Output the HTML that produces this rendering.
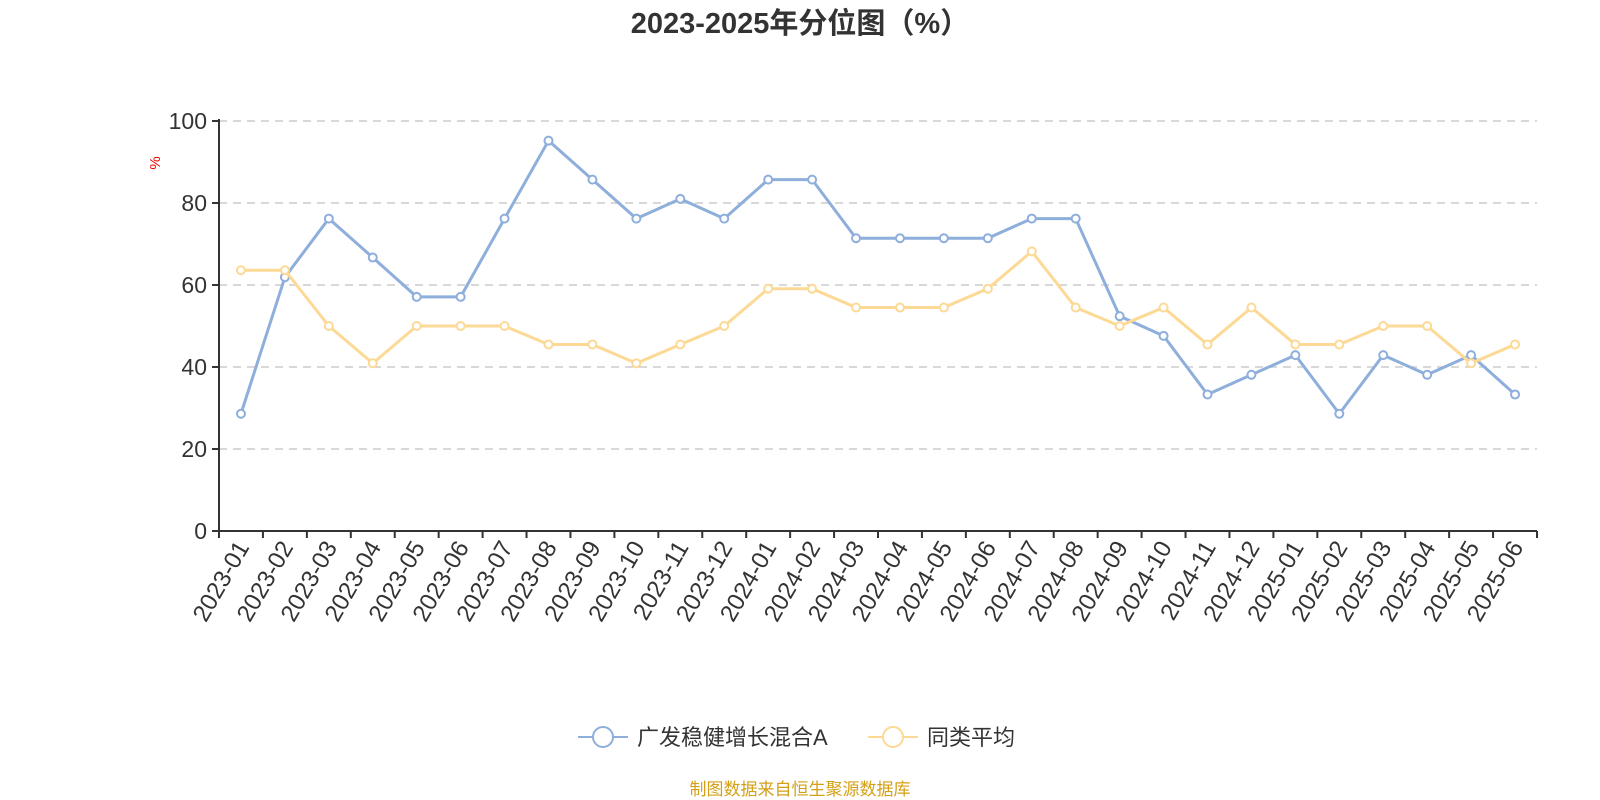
<!DOCTYPE html>
<html><head><meta charset="utf-8">
<style>
body{margin:0;background:#fff;}
svg{display:block;font-family:"Liberation Sans","Noto Sans CJK SC",sans-serif;}
</style></head>
<body>
<svg id="chart" width="1600" height="800" viewBox="0 0 1600 800">
<text x="800" y="33" text-anchor="middle" font-size="29" font-weight="bold" fill="#333">2023-2025年分位图（%）</text>
<text transform="translate(160,163) rotate(-90)" text-anchor="middle" font-size="15" fill="#e00">%</text>
<g id="grid"></g><g id="axes"></g><g id="series"></g>
<g>
<g>
<line x1="578" y1="737" x2="628" y2="737" stroke="#8eaedb" stroke-width="2"/>
<circle cx="603" cy="737" r="10" fill="#fff" stroke="#8eaedb" stroke-width="2"/>
<text x="637" y="745" font-size="22" fill="#333">广发稳健增长混合A</text></g>
<g>
<line x1="868" y1="737" x2="918" y2="737" stroke="#fdd996" stroke-width="2"/>
<circle cx="893" cy="737" r="10" fill="#fff" stroke="#fdd996" stroke-width="2"/>
<text x="927" y="745" font-size="22" fill="#333">同类平均</text></g>
</g>
<text x="800" y="795" text-anchor="middle" font-size="17" fill="#d4a017">制图数据来自恒生聚源数据库</text>
</svg>
<script>
const categories=["2023-01","2023-02","2023-03","2023-04","2023-05","2023-06","2023-07","2023-08","2023-09","2023-10","2023-11","2023-12","2024-01","2024-02","2024-03","2024-04","2024-05","2024-06","2024-07","2024-08","2024-09","2024-10","2024-11","2024-12","2025-01","2025-02","2025-03","2025-04","2025-05","2025-06"];
const fundValues=[28.6,61.9,76.2,66.7,57.1,57.1,76.2,95.2,85.7,76.2,81.0,76.2,85.7,85.7,71.4,71.4,71.4,71.4,76.2,76.2,52.4,47.6,33.3,38.1,42.9,28.6,42.9,38.1,42.9,33.3];
const avgValues=[63.6,63.6,50,40.9,50,50,50,45.5,45.5,40.9,45.5,50,59.1,59.1,54.5,54.5,54.5,59.1,68.2,54.5,50,54.5,45.5,54.5,45.5,45.5,50,50,40.9,45.5];
const yTicks=[0,20,40,60,80,100];
const NS="http://www.w3.org/2000/svg";
const L=219,R=1537,T=121,B=531;
const bw=(R-L)/categories.length;
const xs=i=>L+bw*(i+0.5);
const ys=v=>B-(v/100)*(B-T);
function mk(tag,attrs,parent){const e=document.createElementNS(NS,tag);for(const k in attrs)e.setAttribute(k,attrs[k]);parent.appendChild(e);return e;}
const grid=document.getElementById('grid'),axes=document.getElementById('axes'),series=document.getElementById('series');
yTicks.forEach(t=>{
 if(t>0){const g=mk('line',{x1:L,x2:R,y1:ys(t),y2:ys(t),stroke:'#ccc','stroke-width':1.5,'stroke-dasharray':'8,6'},grid);
 
 }
 const tk=mk('line',{x1:L-7,x2:L,y1:ys(t),y2:ys(t),stroke:'#333','stroke-width':2},axes);
 
 
 const lb=mk('text',{x:L-12,y:ys(t)+8,'text-anchor':'end','font-size':23,fill:'#333'},axes);
 lb.textContent=t;
 
 
});
const ya=mk('line',{x1:L,x2:L,y1:T-2,y2:B,stroke:'#333','stroke-width':2},axes);


const xa=mk('line',{x1:L,x2:R,y1:B,y2:B,stroke:'#333','stroke-width':2},axes);


for(let i=0;i<=categories.length;i++){
 const tk=mk('line',{x1:L+bw*i,x2:L+bw*i,y1:B,y2:B+7,stroke:'#333','stroke-width':2},axes);
 
 
}
categories.forEach((c,i)=>{
 const x=xs(i)+9,y=B+16;
 const t=mk('text',{x:x,y:y,'text-anchor':'end','font-size':24,fill:'#333',transform:`rotate(-60 ${x} ${y})`},axes);
 t.textContent=c;
 
 
});
function drawSeries(vals,color,name){
 const p=mk('polyline',{points:vals.map((v,i)=>xs(i)+','+ys(v)).join(' '),fill:'none',stroke:color,'stroke-width':3,'stroke-linejoin':'round'},series);
 
 
 vals.forEach((v,i)=>{
  const c=mk('circle',{cx:xs(i),cy:ys(v),r:4,fill:'#fff',stroke:color,'stroke-width':2},series);
  
  
 });
}
drawSeries(fundValues,'#8eaedb','fund');
drawSeries(avgValues,'#fdd996','average');
</script>
</body></html>
